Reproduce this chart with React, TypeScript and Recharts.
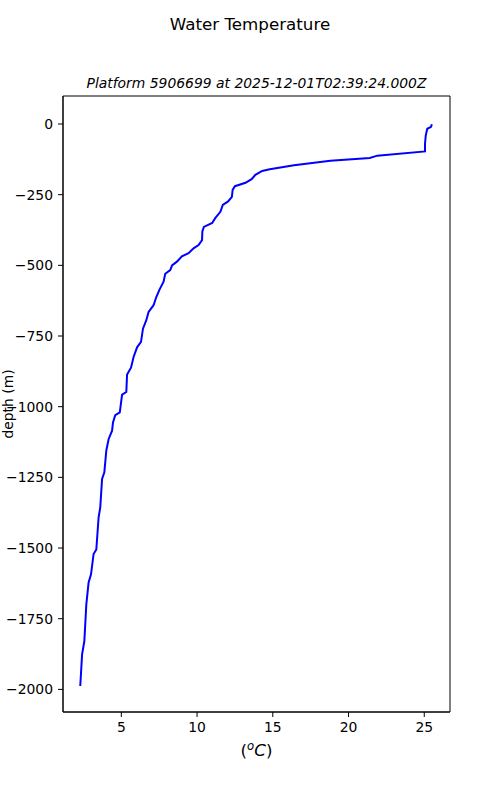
import React from "react";
import { LineChart, Line, XAxis, YAxis, ReferenceArea } from "recharts";

const temps: number[] = [
  25.5, 25.45, 25.2, 25.1, 25.05, 25.05, 21.9, 21.4, 18.8, 16.4, 14.8, 14.3,
  13.85, 13.6, 13.2, 12.5, 12.35, 12.3, 12.05, 11.7, 11.55, 11.2, 11.0, 10.45,
  10.35, 10.33, 10.1, 9.77, 9.44, 9.0, 8.67, 8.35, 8.23, 7.9, 7.79, 7.53, 7.31,
  7.13, 6.8, 6.65, 6.43, 6.3, 6.04, 5.81, 5.64, 5.38, 5.33, 5.05, 4.9, 4.6,
  4.45, 4.39, 4.16, 4.01, 3.88, 3.73, 3.61, 3.5, 3.35, 3.17, 3.0, 2.84, 2.69,
  2.56, 2.41, 2.29,
];
const depths: number[] = [
  -1, -10, -17, -40, -70, -97, -112, -120, -130, -146, -160, -166, -180, -195,
  -208, -220, -233, -258, -274, -286, -310, -333, -350, -364, -380, -411, -428,
  -440, -457, -468, -487, -500, -517, -530, -558, -585, -612, -641, -665, -694,
  -724, -771, -790, -824, -862, -886, -948, -957, -1020, -1030, -1056, -1085,
  -1115, -1155, -1232, -1256, -1356, -1392, -1505, -1521, -1593, -1622, -1699,
  -1829, -1876, -1988,
];
const xTicks: number[] = [5, 10, 15, 20, 25];
const yTicks: number[] = [0, -250, -500, -750, -1000, -1250, -1500, -1750, -2000];
const xDomain: [number, number] = [1.15, 26.7];
const yDomain: [number, number] = [-2080, 99];

const title = "Water Temperature";
const subtitle = "Platform 5906699 at 2025-12-01T02:39:24.000Z";
const yLabel = "depth (m)";

const data = temps.map((t, i) => ({ temp: t, depth: depths[i] }));

const FONT = "'DejaVu Sans', sans-serif";
const fmt = (v: number) => String(v).replace("-", "\u2212");
const tickStyle = { fontFamily: FONT, fontSize: 13.9, fill: "#000" };

export default function App() {
  return (
    <div
      style={{
        position: "absolute",
        left: 0,
        top: 0,
        width: 500,
        height: 800,
        background: "#fff",
      }}
    >
      <LineChart
        width={500}
        height={800}
        data={data}
        margin={{ top: 96, right: 50, bottom: 0, left: 8 }}
      >
        <XAxis
          type="number"
          dataKey="temp"
          domain={xDomain}
          ticks={xTicks}
          allowDataOverflow
          height={88}
          tickSize={5}
          tickMargin={5}
          tick={tickStyle}
          stroke="#000"
          tickLine={{ stroke: "#000" }}
          axisLine={{ stroke: "#000", strokeWidth: 1 }}
        />
        <YAxis
          type="number"
          domain={yDomain}
          ticks={yTicks}
          allowDataOverflow
          width={55}
          tickSize={5}
          tickMargin={5}
          tickFormatter={fmt}
          tick={tickStyle}
          tickLine={{ stroke: "#000" }}
          axisLine={{ stroke: "#000", strokeWidth: 1 }}
        />
        <ReferenceArea
          x1={xDomain[0]}
          x2={xDomain[1]}
          y1={yDomain[0]}
          y2={yDomain[1]}
          fill="none"
          fillOpacity={0}
          stroke="#000"
          strokeWidth={1}
          strokeOpacity={1}
          ifOverflow="visible"
        />
        <Line
          dataKey="depth"
          stroke="#0000ff"
          strokeWidth={2}
          dot={false}
          isAnimationActive={false}
          type="linear"
        />
      </LineChart>
      <svg
        width={500}
        height={800}
        style={{ position: "absolute", left: 0, top: 0, pointerEvents: "none" }}
      >
        <text
          x={250}
          y={30}
          textAnchor="middle"
          fontFamily={FONT}
          fontSize={16.7}
          fill="#000"
        >
          {title}
        </text>
        <text
          x={256.5}
          y={88}
          textAnchor="middle"
          fontFamily={FONT}
          fontSize={13.9}
          fontStyle="italic"
          fill="#000"
        >
          {subtitle}
        </text>
        <text
          x={256.5}
          y={756}
          textAnchor="middle"
          fontFamily={FONT}
          fontSize={16.7}
          fill="#000"
        >
          <tspan>(</tspan>
          <tspan fontStyle="italic" fontSize={11.7} dy={-6}>o</tspan>
          <tspan fontStyle="italic" dy={6}>C</tspan>
          <tspan>)</tspan>
        </text>
        <text
          x={0}
          y={0}
          transform="translate(12.5,404) rotate(-90)"
          textAnchor="middle"
          fontFamily={FONT}
          fontSize={13.9}
          fill="#000"
        >
          {yLabel}
        </text>
      </svg>
    </div>
  );
}
